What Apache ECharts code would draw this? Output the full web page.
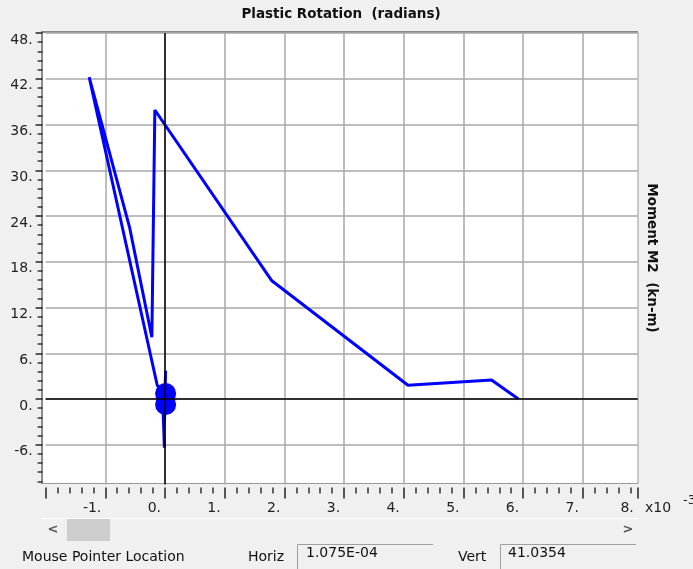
<!DOCTYPE html>
<html>
<head>
<meta charset="utf-8">
<style>
  html, body { margin: 0; padding: 0; background: #f0f0f0; }
  #chart { width: 693px; height: 569px; }
</style>
<script src="https://cdn.jsdelivr.net/npm/echarts@6/dist/echarts.min.js"></script>
</head>
<body>
<div id="chart"></div>
<script>
// plastic rotation in units of 1e-3 rad, moment in kN-m
const rotation = [0, 0.01, 0, 0, -0.02, -0.01, -0.03, 0.02, -0.13, -1.27, -0.59, -0.22, -0.17, 1.79, 4.07, 5.47, 5.92]
const moment = [0, 3.7, 0.8, -1.5, -4.0, -6.4, -2.0, 0.5, 1.8, 42.2, 22.4, 8.1, 37.9, 15.5, 1.8, 2.5, 0]
// dense small cycles around the origin
const blobRotation = [0.01, 0.01]
const blobMoment = [0.72, -0.72]

const xMin = -2, xMax = 7.92, xStep = 1
const yMin = -12, yMax = 48, yStep = 6

const font = '"DejaVu Sans", Verdana, sans-serif'
const bg = '#f0f0f0'

const chart = echarts.init(document.getElementById('chart'))

const path = rotation.map((r, i) => [r, moment[i]])
const blob = blobRotation.map((r, i) => [r, blobMoment[i]])

const gridLine = { show: true, lineStyle: { color: '#a8a8a8', width: 1.5 } }

chart.setOption({
  backgroundColor: bg,
  animation: false,
  grid: { left: 45.6, right: 55.2, top: 33, bottom: 78.5, show: false },
  xAxis: [
    {
      type: 'value', min: xMin, max: xMax, interval: xStep, z: 1,
      axisLine: { show: false, onZero: false }, axisTick: { show: false }, axisLabel: { show: false },
      splitLine: Object.assign({ showMinLine: false, showMaxLine: false }, gridLine)
    },
    {
      type: 'value', min: xMin, max: xMax, interval: xStep, z: 8,
      position: 'bottom', offset: -3,
      axisLine: { show: false, onZero: false },
      axisTick: { show: true, length: 11, lineStyle: { color: '#222', width: 1.5 } },
      minorTick: { show: true, splitNumber: 5, length: 6, lineStyle: { color: '#333', width: 1.5 } },
      splitLine: { show: false },
      axisLabel: {
        showMinLabel: false, align: 'right', padding: [0, 4, 0, 0], margin: 14,
        color: '#222', fontFamily: font, fontSize: 14,
        formatter: v => Math.round(v) + '.'
      }
    }
  ],
  yAxis: {
    type: 'value', min: yMin, max: yMax, interval: yStep, z: 1, offset: 3,
    axisLine: { show: false, onZero: false },
    axisTick: { show: true, length: 7, lineStyle: { color: '#222', width: 1.5 } },
    minorTick: { show: true, splitNumber: 5, length: 5, lineStyle: { color: '#333', width: 1.5 } },
    splitLine: Object.assign({ showMinLine: false }, gridLine),
    axisLabel: {
      showMinLabel: false, margin: 10, verticalAlign: 'top', color: '#222', fontFamily: font, fontSize: 14,
      formatter: v => v + '.'
    }
  },
  series: [
    {
      type: 'line', data: path, z: 3, symbol: 'none',
      lineStyle: { color: '#0000ff', width: 3 },
      markLine: {
        silent: true, symbol: ['none', 'none'], label: { show: false },
        lineStyle: { color: '#000', width: 1.5, type: 'solid' },
        data: [{ xAxis: 0 }, { yAxis: 0 }]
      }
    },
    {
      type: 'scatter', data: blob, z: 4, symbol: 'circle', symbolSize: 21,
      itemStyle: { color: '#0000ff', opacity: 1 }
    }
  ],
  graphic: [
    { type: 'rect', z: 0, shape: { x: 42.5, y: 32.5, width: 595.5, height: 451 },
      style: { fill: '#fff', stroke: '#9a9a9a', lineWidth: 1 } },
    { type: 'polyline', z: 0, shape: { points: [[42, 484], [42, 32], [638, 32]] },
      style: { fill: null, stroke: '#8a8a8a', lineWidth: 2 } },
    { type: 'rect', z: 6, shape: { x: 0, y: 484.5, width: 693, height: 9 }, style: { fill: bg } },
    { type: 'text', z: 10, x: 341, y: 14,
      style: { text: 'Plastic Rotation  (radians)', font: 'bold 13.5px ' + font, fill: '#111', align: 'center', verticalAlign: 'middle' } },
    { type: 'text', z: 10, x: 651, y: 258, rotation: -Math.PI / 2,
      style: { text: 'Moment M2  (kn-m)', font: 'bold 13.5px ' + font, fill: '#111', align: 'center', verticalAlign: 'middle' } },
    { type: 'text', z: 10, x: 645, y: 508,
      style: { text: 'x10', font: '14px ' + font, fill: '#222', verticalAlign: 'middle' } },
    { type: 'text', z: 10, x: 683, y: 501,
      style: { text: '-3', font: '13px ' + font, fill: '#222', verticalAlign: 'middle' } },
    // scroll bar
    { type: 'line', z: 10, shape: { x1: 42, y1: 518.5, x2: 638, y2: 518.5 }, style: { stroke: '#fff', lineWidth: 1 } },
    { type: 'rect', z: 10, shape: { x: 67, y: 519, width: 43, height: 22 }, style: { fill: '#cdcdcd' } },
    { type: 'text', z: 10, x: 53, y: 530,
      style: { text: '<', font: 'bold 13px ' + font, fill: '#555', align: 'center', verticalAlign: 'middle' } },
    { type: 'text', z: 10, x: 628, y: 530,
      style: { text: '>', font: 'bold 13px ' + font, fill: '#555', align: 'center', verticalAlign: 'middle' } },
    // mouse pointer readout
    { type: 'text', z: 10, x: 22, y: 557,
      style: { text: 'Mouse Pointer Location', font: '14px ' + font, fill: '#111', verticalAlign: 'middle' } },
    { type: 'text', z: 10, x: 248, y: 557,
      style: { text: 'Horiz', font: '14px ' + font, fill: '#111', verticalAlign: 'middle' } },
    { type: 'polyline', z: 10, shape: { points: [[297.5, 569], [297.5, 544.5], [433, 544.5]] },
      style: { fill: null, stroke: '#a0a0a0', lineWidth: 1 } },
    { type: 'text', z: 10, x: 306, y: 553,
      style: { text: '1.075E-04', font: '14px ' + font, fill: '#111', verticalAlign: 'middle' } },
    { type: 'text', z: 10, x: 458, y: 557,
      style: { text: 'Vert', font: '14px ' + font, fill: '#111', verticalAlign: 'middle' } },
    { type: 'polyline', z: 10, shape: { points: [[500.5, 569], [500.5, 544.5], [636, 544.5]] },
      style: { fill: null, stroke: '#a0a0a0', lineWidth: 1 } },
    { type: 'text', z: 10, x: 508, y: 553,
      style: { text: '41.0354', font: '14px ' + font, fill: '#111', verticalAlign: 'middle' } }
  ]
})
</script>
</body>
</html>
